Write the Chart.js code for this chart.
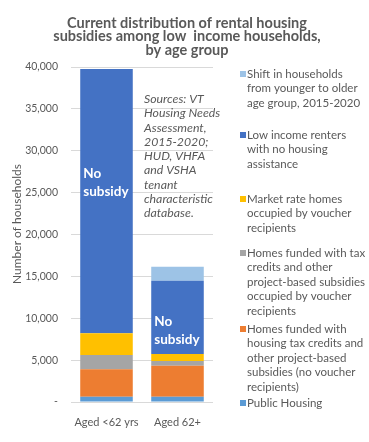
<!DOCTYPE html>
<html>
<head>
<meta charset="utf-8">
<script src="https://cdn.jsdelivr.net/npm/chart.js@4"></script>
<style>
  html, body { margin: 0; padding: 0; background: #fff; }
  #wrap { width: 369px; height: 442px; position: relative; }
</style>
</head>
<body>
<div id="wrap"><canvas id="chart" width="369" height="442"></canvas></div>
<script>
/* Data */

const ageGroups = ["Aged <62 yrs", "Aged 62+"];

const publicHousing = [620, 640];
const taxCreditsNoVoucher = [3280, 3700];
const taxCreditsWithVoucher = [1700, 570];
const marketRateVoucher = [2600, 830];
const noAssistance = [31560, 8740];
const ageGroupShift = [0, 1680];

const seriesNames = [
    ["Public Housing"],
    ["Homes funded with", "housing tax credits and", "other project-based", "subsidies (no voucher", "recipients)"],
    ["Homes funded with tax", "credits and other", "project-based subsidies", "occupied by voucher", "recipients"],
    ["Market rate homes", "occupied by voucher", "recipients"],
    ["Low income renters", "with no housing", "assistance"],
    ["Shift in households", "from younger to older", "age group, 2015-2020"]
];

const seriesColors = ["#5B9BD5", "#ED7D31", "#A5A5A5", "#FFC000", "#4472C4", "#9DC3E6"];

const titleLines = [
    "Current distribution of rental housing",
    "subsidies among low  income households,",
    "by age group"
];

const sourceLines = [
    "Sources: VT", "Housing Needs", "Assessment,", "2015-2020;",
    "HUD, VHFA", "and VSHA", "tenant", "characteristic", "database."
];

const yTicks = [0, 5000, 10000, 15000, 20000, 25000, 30000, 35000, 40000];

const textColor = "#595959";
const fontName = "Lato";

/* Extra drawing: title, axis title, notes, legend */

const annotations = {
    id: "annotations",
    afterDraw(chart) {
        const ctx = chart.ctx;
        ctx.save();

        // title
        ctx.fillStyle = textColor;
        ctx.textAlign = "center";
        ctx.textBaseline = "middle";
        ctx.font = `bold 14.5px ${fontName}`;
        const titleY = [23, 36, 50];
        titleLines.forEach((line, i) => ctx.fillText(line, 187, titleY[i]));

        // y axis title
        ctx.save();
        ctx.translate(17, 224);
        ctx.rotate(-Math.PI / 2);
        ctx.font = `12px ${fontName}`;
        ctx.fillText("Number of households", 0, 0);
        ctx.restore();

        // sources note
        ctx.textAlign = "left";
        ctx.font = `italic 12.3px ${fontName}`;
        sourceLines.forEach((line, i) => ctx.fillText(line, 144, 99 + i * 14.3));

        // "No subsidy" labels
        const meta = chart.getDatasetMeta(4);
        ctx.fillStyle = "#ffffff";
        ctx.font = `bold 13.5px ${fontName}`;
        const offsets = [105, 41];
        meta.data.forEach((bar, i) => {
            const left = bar.x - bar.width / 2 + 3;
            ctx.fillText("No", left, bar.y + offsets[i]);
            ctx.fillText("subsidy", left, bar.y + offsets[i] + 18);
        });

        // legend, top entry is the last series
        ctx.font = `11.5px ${fontName}`;
        const entryTops = [74, 135, 199, 253, 329, 403];
        for (let k = 0; k < seriesNames.length; k++) {
            const s = seriesNames.length - 1 - k;
            const y0 = entryTops[k];
            ctx.fillStyle = seriesColors[s];
            ctx.fillRect(240, y0 - 3, 6, 6);
            ctx.fillStyle = textColor;
            seriesNames[s].forEach((line, j) => ctx.fillText(line, 247, y0 + j * 14.5));
        }

        ctx.restore();
    }
};

/* Chart */

const allSeries = [publicHousing, taxCreditsNoVoucher, taxCreditsWithVoucher, marketRateVoucher, noAssistance, ageGroupShift];

new Chart(document.querySelector("#chart"), {
    type: "bar",
    data: {
        labels: ageGroups,
        datasets: allSeries.map((values, i) => ({
            label: seriesNames[i].join(" "),
            data: values,
            backgroundColor: seriesColors[i],
            borderWidth: 0,
            barPercentage: 0.74,
            categoryPercentage: 1
        }))
    },
    options: {
        responsive: false,
        animation: false,
        layout: {
            padding: { top: 67, right: 156, bottom: 0, left: 0 }
        },
        plugins: {
            legend: { display: false },
            title: { display: false },
            tooltip: { enabled: false }
        },
        scales: {
            x: {
                stacked: true,
                grid: { display: false },
                border: { display: false },
                ticks: {
                    color: textColor,
                    font: { family: fontName, size: 11 },
                    padding: 6,
                    maxRotation: 0
                },
                afterFit: scale => { scale.height = 40; }
            },
            y: {
                stacked: true,
                min: 0,
                max: 40000,
                afterBuildTicks: scale => {
                    scale.ticks = yTicks.map(v => ({ value: v }));
                },
                grid: { color: "#D9D9D9", drawTicks: false },
                border: { display: false },
                ticks: {
                    color: textColor,
                    font: { family: fontName, size: 10.5 },
                    padding: 13,
                    callback: value => value === 0 ? "-" : value.toLocaleString("en-US")
                },
                afterFit: scale => { scale.width = 71; }
            }
        }
    },
    plugins: [annotations]
});
</script>
</body>
</html>
